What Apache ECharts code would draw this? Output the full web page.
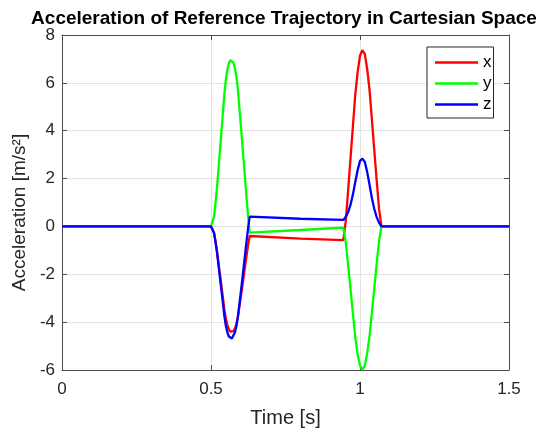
<!DOCTYPE html>
<html>
<head>
<meta charset="utf-8">
<script src="https://cdn.jsdelivr.net/npm/echarts@6/dist/echarts.min.js"></script>
<style>
  html, body { margin: 0; padding: 0; background: #ffffff; }
  #chart { width: 546px; height: 433px; }
</style>
</head>
<body>
<div id="chart"></div>
<script>
	// time samples [s]
	var times = [0, 0.5, 0.505, 0.51, 0.515, 0.52, 0.525, 0.53, 0.535, 0.54, 0.545, 0.55, 0.555, 0.56,
		0.565, 0.57, 0.575, 0.58, 0.585, 0.59, 0.595, 0.6, 0.605, 0.61, 0.615, 0.62, 0.625, 0.63,
		0.8, 0.944, 0.952, 0.96, 0.968, 0.976, 0.984, 0.992, 1.0, 1.008, 1.016, 1.024, 1.032,
		1.04, 1.048, 1.056, 1.064, 1.072, 1.5];

	// acceleration [m/s^2]
	var accX = [0, 0, -0.03, -0.26, -0.61, -1.02, -1.51, -2.00, -2.48, -2.98, -3.48, -3.86, -4.12, -4.30,
		-4.40, -4.43, -4.38, -4.27, -4.09, -3.79, -3.37, -2.95, -2.51, -2.06, -1.61, -1.16, -0.74, -0.40,
		-0.51, -0.57, 0.20, 1.47, 2.81, 4.15, 5.49, 6.44, 7.13, 7.36, 7.21, 6.59, 5.71,
		4.45, 3.18, 1.92, 0.73, 0, 0];

	var accY = [0, 0, 0.05, 0.40, 0.95, 1.60, 2.38, 3.17, 3.95, 4.75, 5.55, 6.15, 6.55, 6.82,
		6.95, 6.96, 6.85, 6.62, 6.28, 5.75, 5.00, 4.25, 3.47, 2.68, 1.89, 1.10, 0.35, -0.26,
		-0.15, -0.05, -0.64, -1.59, -2.60, -3.61, -4.62, -5.33, -5.83, -5.98, -5.82, -5.31, -4.60,
		-3.58, -2.57, -1.55, -0.60, 0, 0];

	var accZ = [0, 0, -0.03, -0.26, -0.64, -1.07, -1.60, -2.14, -2.67, -3.21, -3.76, -4.16, -4.43, -4.60,
		-4.68, -4.68, -4.60, -4.43, -4.18, -3.81, -3.28, -2.76, -2.21, -1.66, -1.10, -0.55, -0.02, 0.41,
		0.32, 0.27, 0.39, 0.59, 0.90, 1.32, 1.85, 2.35, 2.74, 2.83, 2.70, 2.28, 1.74,
		1.18, 0.73, 0.39, 0.15, 0, 0];

	var seriesNames = ['x', 'y', 'z'];
	var seriesColors = ['#ff0000', '#00ff00', '#0000ff'];
	var seriesValues = [accX, accY, accZ];

	var FONT = '"Liberation Sans", Arial, Helvetica, sans-serif';
	var AXIS_COLOR = '#4d4d4d';
	var GRID_COLOR = '#e3e3e3';

	function pairs(vals){
		var d = [];
		for(var i = 0; i < times.length; i++){
			d.push([times[i], vals[i]]);
		}
		return d;
	}

	var series = [];
	for(var s = 0; s < seriesNames.length; s++){
		series.push({
			name: seriesNames[s],
			type: 'line',
			data: pairs(seriesValues[s]),
			symbol: 'none',
			showSymbol: false,
			clip: true,
			color: seriesColors[s],
			lineStyle: { color: seriesColors[s], width: 2.3 },
			animation: false
		});
	}

	function xAxisDef(primary){
		return {
			type: 'value',
			min: 0, max: 1.5, interval: 0.5,
			position: primary ? 'bottom' : 'top',
			name: primary ? 'Time [s]' : '',
			nameLocation: 'middle',
			nameGap: 38,
			nameTextStyle: { fontFamily: FONT, fontSize: 20, color: '#262626' },
			axisLine: { show: true, onZero: false, lineStyle: { color: AXIS_COLOR, width: 1 } },
			axisTick: { show: true, inside: true, length: 5, lineStyle: { color: AXIS_COLOR } },
			axisLabel: { show: primary, fontFamily: FONT, fontSize: 17, color: '#262626', margin: 11 },
			splitLine: { show: primary, lineStyle: { color: GRID_COLOR, width: 1 } }
		};
	}

	function yAxisDef(primary){
		return {
			type: 'value',
			min: -6, max: 8, interval: 2,
			position: primary ? 'left' : 'right',
			name: primary ? 'Acceleration [m/s²]' : '',
			nameLocation: 'middle',
			nameRotate: 90,
			nameGap: 26,
			nameTextStyle: { fontFamily: FONT, fontSize: 19, color: '#262626', padding: [0, 20, 0, 0] },
			axisLine: { show: true, onZero: false, lineStyle: { color: AXIS_COLOR, width: 1 } },
			axisTick: { show: true, inside: true, length: 5, lineStyle: { color: AXIS_COLOR } },
			axisLabel: { show: primary, fontFamily: FONT, fontSize: 17, color: '#262626', margin: 7 },
			splitLine: { show: primary, lineStyle: { color: GRID_COLOR, width: 1 } }
		};
	}

	var option = {
		backgroundColor: '#ffffff',
		animation: false,
		title: {
			text: 'Acceleration of Reference Trajectory in Cartesian Space',
			left: 279,
			top: 4,
			textAlign: 'center',
			textStyle: { fontFamily: FONT, fontSize: 19, fontWeight: 'bold', color: '#000000' }
		},
		legend: {
			data: seriesNames,
			orient: 'vertical',
			left: 427,
			top: 47,
			padding: [5, 2, 3, 8],
			icon: 'rect',
			itemWidth: 43,
			itemHeight: 2.5,
			itemGap: 0,
			backgroundColor: '#ffffff',
			borderColor: '#262626',
			borderWidth: 1,
			textStyle: { fontFamily: FONT, fontSize: 17, lineHeight: 21, color: '#000000' }
		},
		grid: { left: 62, right: 37, top: 35, bottom: 59, containLabel: false },
		xAxis: [xAxisDef(true), xAxisDef(false)],
		yAxis: [yAxisDef(true), yAxisDef(false)],
		series: series
	};

	var chart = echarts.init(document.getElementById('chart'), null, { renderer: 'canvas' });
	chart.setOption(option);
</script>
</body>
</html>
